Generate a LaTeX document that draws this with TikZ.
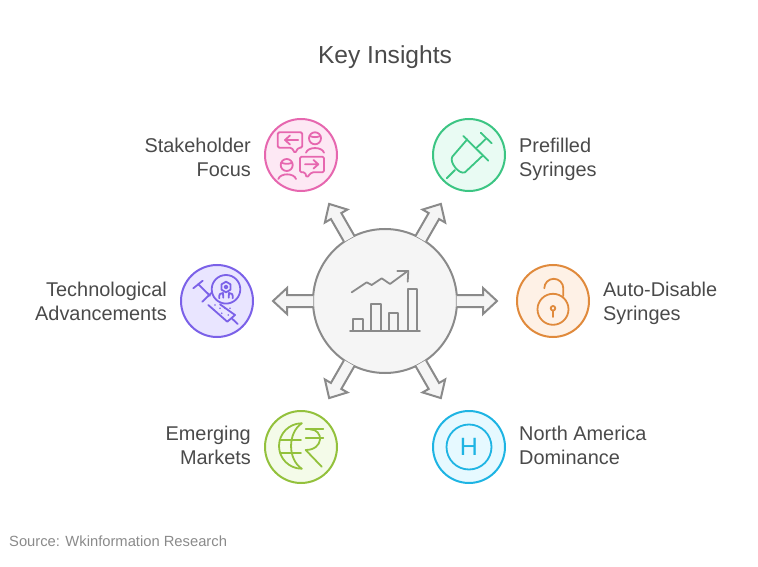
\documentclass[tikz,border=0pt]{standalone}
\usepackage{fontspec}
\setmainfont{Liberation Sans}
\usepackage{xcolor}
\usetikzlibrary{positioning, calc}

\definecolor{inktext}{HTML}{4A4A4A}
\definecolor{hubline}{HTML}{8A8A8A}
\definecolor{hubfill}{HTML}{F5F5F5}
\definecolor{pinkline}{HTML}{E667AF}
\definecolor{pinkfill}{HTML}{FDE8F4}
\definecolor{greenline}{HTML}{3CC583}
\definecolor{greenfill}{HTML}{E9FBF3}
\definecolor{purpline}{HTML}{7B61E8}
\definecolor{purpfill}{HTML}{E9E5FF}
\definecolor{orangeline}{HTML}{E08A3C}
\definecolor{orangefill}{HTML}{FEF1E6}
\definecolor{limeline}{HTML}{93C13C}
\definecolor{limefill}{HTML}{F4FBE9}
\definecolor{blueline}{HTML}{1EB4E3}
\definecolor{bluefill}{HTML}{E6F9FF}

\tikzstyle{spoke} = [circle, draw, line width=2pt, minimum size=72pt, inner sep=0pt]
\tikzstyle{icon} = [line width=1.8pt, line cap=round, line join=round]
\tikzstyle{caption} = [inner sep=0pt, text=inktext, font=\fontsize{19.9}{24}\selectfont]
\tikzstyle{blockarr} = [draw=hubline, fill=hubfill, line width=2pt, to path={
	let \p1=($(\tikztotarget)-(\tikztostart)$), \n1={atan2(\y1,\x1)} in
	([shift={(\tikztostart)},rotate=\n1]71.7,6) -- ([shift={(\tikztostart)},rotate=\n1]98,6)
	-- ([shift={(\tikztostart)},rotate=\n1]98,13) -- ([shift={(\tikztostart)},rotate=\n1]112,0)
	-- ([shift={(\tikztostart)},rotate=\n1]98,-13) -- ([shift={(\tikztostart)},rotate=\n1]98,-6)
	-- ([shift={(\tikztostart)},rotate=\n1]71.7,-6)}]

\begin{document}
\begin{tikzpicture}[x=1pt, y=1pt]
	\useasboundingbox (0,0) rectangle (758,566);

	\node[inner sep=0pt, text=inktext, font=\fontsize{24.6}{28}\selectfont] (title) at (385,509) {Key Insights};

	\node[circle, draw=hubline, fill=hubfill, line width=2pt, minimum size=144pt, inner sep=0pt] (hub) at (385,265) {};

	\node[spoke, draw=pinkline, fill=pinkfill] (stake) at (301,411) {};
	\node[spoke, draw=greenline, fill=greenfill] (prefill) at (469,411) {};
	\node[spoke, draw=purpline, fill=purpfill] (tech) at (217,265) {};
	\node[spoke, draw=orangeline, fill=orangefill] (lock) at (553,265) {};
	\node[spoke, draw=limeline, fill=limefill] (emerge) at (301,119) {};
	\node[spoke, draw=blueline, fill=bluefill] (north) at (469,119) {};

	\node[caption, align=right, left=13pt of stake, yshift=-2pt] (stakelbl) {Stakeholder\\Focus};
	\node[caption, align=left, right=13pt of prefill, yshift=-4pt] (prefilllbl) {Prefilled\\Syringes};
	\node[caption, align=right, left=13pt of tech] (techlbl) {Technological\\Advancements};
	\node[caption, align=left, right=13pt of lock, yshift=-2pt] (locklbl) {Auto-Disable\\Syringes};
	\node[caption, align=right, left=13pt of emerge, yshift=2pt] (emergelbl) {Emerging\\Markets};
	\node[caption, align=left, right=13pt of north, yshift=2pt] (northlbl) {North America\\Dominance};

	\foreach \tgt in {stake, prefill, tech, lock, emerge, north}
		\draw[blockarr] (hub.center) to (\tgt.center);

	% chart in the middle
	\begin{scope}[shift={(hub.center)}, icon, draw=hubline]
		\draw (-35,-29.7) -- (35,-29.7);
		\draw (-31.7,-29.7) -- (-31.7,-18) -- (-22.3,-18) -- (-22.3,-29.7);
		\draw (-14,-29.7) -- (-14,-3) -- (-4.3,-3) -- (-4.3,-29.7);
		\draw (4,-29.7) -- (4,-11.7) -- (13.3,-11.7) -- (13.3,-29.7);
		\draw (22.7,-29.7) -- (22.7,11.7) -- (31.7,11.7) -- (31.7,-29.7);
		\draw (-33.3,8.7) -- (-18.3,18.7) -- (-13.3,16) -- (-3.3,22.7) -- (5,17) -- (22.7,30);
		\draw (12.3,30) -- (23.3,30) -- (22.7,19.3);
	\end{scope}

	% two people and speech bubbles
	\begin{scope}[shift={(stake.center)}, icon, draw=pinkline]
		\draw[rounded corners=1.5pt] (-9.3,7.3) -- (-23.3,7.3) -- (-23.3,22.7) -- (1.3,22.7) -- (1.3,7.3) -- (-2.7,7.3) -- (-6,1.7) -- cycle;
		\draw (-2.7,15) -- (-16,15) (-11,19.5) -- (-16,15) -- (-11,10.5);
		\draw (14,16.7) circle (6);
		\draw (8.6,19) .. controls (12,17.5) and (16,17.5) .. (19.4,19);
		\draw (5,2.3) .. controls (7,8.5) and (21,8.5) .. (23,2.3);
		\draw (-14.3,-10) circle (6);
		\draw (-19.7,-7.7) .. controls (-16,-9.2) and (-12,-9.2) .. (-8.9,-7.7);
		\draw (-22.7,-24) .. controls (-20.7,-17.8) and (-7,-17.8) .. (-5,-24);
		\draw[rounded corners=1.5pt] (10.7,-17.3) -- (23,-17.3) -- (23,-1.7) -- (-1,-1.7) -- (-1,-17.3) -- (4,-17.3) -- (5.7,-22.7) -- cycle;
		\draw (4,-9.3) -- (17.3,-9.3) (12.5,-5) -- (17.3,-9.3) -- (12.5,-13.6);
	\end{scope}

	% syringe
	\begin{scope}[shift={(prefill.center)}, icon, draw=greenline]
		\draw (-22.3,-23.3) -- (-14,-15);
		\draw (-5.7,19) -- (19.3,-5.7);
		\draw (-1.7,15.7) -- (-16.7,-1.7) .. controls (-20,-7) and (-10,-20) .. (-4,-17.3) -- (13.3,-1);
		\draw (7.7,7.3) -- (16.7,16);
		\draw (11.7,22.3) -- (22.7,11.7);
	\end{scope}

	% syringe with robot hand badge
	\begin{scope}[shift={(tech.center)}, icon, draw=purpline]
		\draw (9,11.7) circle (14.3);
		\draw (-23.7,12.7) -- (-14.3,20.3);
		\draw (-18.7,16.7) -- (-7,5.3);
		\draw (-14.7,-0.7) -- (-5.3,8.3);
		\draw (-8.7,-4) -- (10.3,-20.7) -- (18,-14) -- (3,-3.3);
		\draw (14.7,-17.3) -- (20.7,-23);
		\draw (4.5,16.7) -- (9,19.3) -- (13.5,16.7) -- (13.5,11.3) -- (9,8.7) -- (4.5,11.3) -- cycle;
		\draw (9,14) circle (1.6);
		\draw (2.3,2.7) .. controls (2,7) and (3,8) .. (6,8) -- (6.3,3.3);
		\draw (15.7,2.7) .. controls (16,7) and (15,8) .. (12,8) -- (11.7,3.3);
		\foreach \dx/\dy in {-2/-4, 3/-7.3, 8/-7.3, 13/-7.3, 11.3/-14, 4.7/-12.3}
			\fill[purpline] (\dx,\dy) circle (0.9);
	\end{scope}

	% open padlock
	\begin{scope}[shift={(lock.center)}, icon, draw=orangeline]
		\draw (0,-8.3) circle (15.5);
		\draw (0,-7.3) circle (2.3);
		\draw (0,-9.6) -- (0,-16);
		\draw (-8.7,12.7) arc[start angle=180, end angle=0, radius=9.5] -- (10.3,5);
	\end{scope}

	% globe half and rupee sign
	\begin{scope}[shift={(emerge.center)}, icon, draw=limeline]
		\draw (0.7,23.7) arc[start angle=90, end angle=270, radius=22.7];
		\draw (0.7,23.7) .. controls (-13.5,14) and (-13.5,-12) .. (0.7,-21.7);
		\draw (-21,7) -- (0,7) (-21,-6.3) -- (0,-6.3);
		\draw (4.7,17.7) -- (22.3,17.7) (4.7,8.7) -- (22.3,8.7);
		\draw (9,17.7) .. controls (23,17.7) and (23,-3) .. (4.7,-3) -- (20.7,-19.7);
	\end{scope}

	% ring with letter
	\draw[icon, draw=blueline] (north.center) circle (22.5);
	\node[inner sep=0pt, text=blueline, font=\fontsize{25}{25}\selectfont] (hmark) at (north.center) {H};

	\node[inner sep=0pt, anchor=west, text=hubline, font=\fontsize{14.75}{16}\selectfont] (source) at (9,25) {Source: Wkinformation Research};
\end{tikzpicture}
\end{document}
